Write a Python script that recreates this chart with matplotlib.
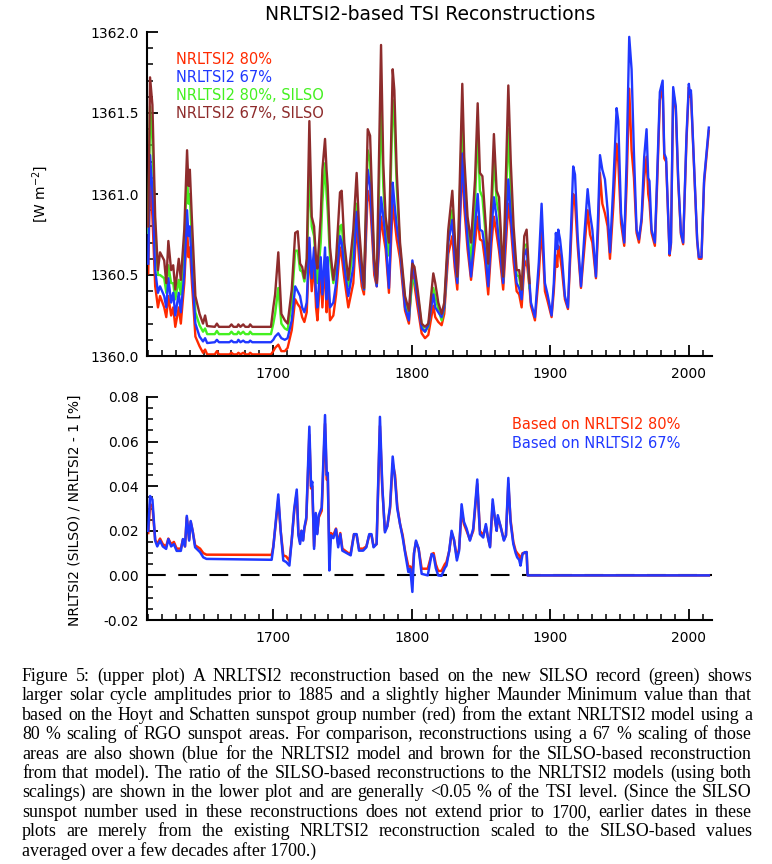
import matplotlib
matplotlib.use("Agg")
import matplotlib.pyplot as plt
from matplotlib.ticker import MultipleLocator, FormatStrFormatter

plt.rcParams['axes.unicode_minus'] = False
plt.rcParams['font.family'] = ['DejaVu Sans']

# ---------------- data: upper plot ----------------
# SILSO-based reconstructions (1610-1885) and NRLTSI2 over the same years
years_early = [1610.0, 1611.3, 1613.0, 1615.0, 1617.0, 1618.5, 1621.5, 1623.0, 1624.5, 1626.5,
               1628.0, 1629.5, 1632.0, 1633.5, 1636.0, 1638.0, 1639.0, 1640.0, 1641.5, 1644.0,
               1647.0, 1649.5, 1651.0, 1652.5, 1658.0, 1659.5, 1661.0, 1668.5, 1670.0, 1671.5,
               1674.0, 1675.0, 1676.5, 1678.5, 1680.0, 1682.5, 1683.5, 1685.0, 1698.5, 1700.2,
               1701.5, 1703.8, 1706.0, 1708.5, 1710.5, 1713.5, 1716.0, 1717.8, 1719.5, 1721.0,
               1722.6, 1724.3, 1726.2, 1727.9, 1729.6, 1731.0, 1732.0, 1734.4, 1735.6, 1737.5,
               1738.6, 1739.4, 1741.1, 1743.5, 1745.5, 1748.3, 1749.5, 1751.4, 1754.3, 1757.9,
               1760.3, 1762.0, 1764.0, 1765.6, 1768.3, 1770.0, 1771.6, 1773.0, 1774.8, 1777.9,
               1779.5, 1781.2, 1783.6, 1786.3, 1787.5, 1789.2, 1791.6, 1795.2, 1798.0, 1800.5,
               1802.0, 1804.3, 1807.2, 1809.6, 1812.0, 1815.6, 1817.0, 1819.2, 1821.6, 1823.5,
               1826.4, 1829.3, 1831.0, 1832.9, 1836.5, 1837.9, 1840.3, 1842.8, 1845.7, 1847.6,
               1849.2, 1851.0, 1853.0, 1855.2, 1857.6, 1859.3, 1861.3, 1863.0, 1866.0, 1869.7,
               1871.5, 1873.5, 1875.7, 1877.5, 1879.3, 1881.2, 1882.9, 1885.0]

silso_67 = [1360.80, 1361.72, 1361.55, 1360.86, 1360.53, 1360.64, 1360.59, 1360.45, 1360.71, 1360.53,
            1360.56, 1360.41, 1360.60, 1360.47, 1360.78, 1361.27, 1361.05, 1361.15, 1360.84, 1360.37,
            1360.26, 1360.20, 1360.25, 1360.185, 1360.18, 1360.20, 1360.18, 1360.18, 1360.195, 1360.18,
            1360.18, 1360.195, 1360.18, 1360.195, 1360.18, 1360.18, 1360.195, 1360.18, 1360.18, 1360.30,
            1360.38, 1360.64, 1360.26, 1360.22, 1360.20, 1360.41, 1360.76, 1360.77, 1360.57, 1360.55,
            1360.48, 1360.60, 1361.45, 1360.86, 1360.80, 1360.60, 1360.54, 1360.86, 1361.15, 1361.34,
            1361.15, 1361.05, 1360.67, 1360.47, 1360.60, 1361.01, 1361.02, 1360.70, 1360.47, 1360.78,
            1361.13, 1360.80, 1360.57, 1360.42, 1361.40, 1361.36, 1360.94, 1360.60, 1360.45, 1361.92,
            1361.19, 1360.86, 1360.70, 1361.77, 1361.64, 1361.14, 1360.70, 1360.37, 1360.28, 1360.57,
            1360.55, 1360.41, 1360.20, 1360.18, 1360.20, 1360.51, 1360.45, 1360.33, 1360.26, 1360.33,
            1360.78, 1361.02, 1360.75, 1360.49, 1361.68, 1361.23, 1360.86, 1360.70, 1361.09, 1361.56,
            1361.13, 1361.11, 1360.86, 1360.57, 1360.98, 1361.37, 1361.02, 1360.98, 1360.49, 1361.67,
            1361.19, 1360.80, 1360.53, 1360.53, 1360.41, 1360.74, 1360.78, 1360.45]

silso_80 = [1360.76, 1361.54, 1361.33, 1360.78, 1360.50, 1360.50, 1360.48, 1360.39, 1360.56, 1360.45,
            1360.45, 1360.35, 1360.47, 1360.38, 1360.70, 1361.11, 1360.94, 1361.00, 1360.70, 1360.27,
            1360.19, 1360.15, 1360.17, 1360.135, 1360.135, 1360.155, 1360.135, 1360.135, 1360.15, 1360.135,
            1360.135, 1360.15, 1360.135, 1360.15, 1360.135, 1360.135, 1360.15, 1360.135, 1360.135, 1360.20,
            1360.26, 1360.42, 1360.20, 1360.17, 1360.16, 1360.33, 1360.65, 1360.65, 1360.53, 1360.52,
            1360.46, 1360.55, 1361.13, 1360.80, 1360.74, 1360.55, 1360.45, 1360.70, 1360.95, 1361.19,
            1361.00, 1360.90, 1360.60, 1360.45, 1360.55, 1360.80, 1360.81, 1360.63, 1360.43, 1360.68,
            1360.94, 1360.72, 1360.52, 1360.41, 1361.27, 1361.20, 1360.85, 1360.57, 1360.44, 1361.55,
            1361.05, 1360.80, 1360.62, 1361.58, 1361.45, 1361.05, 1360.66, 1360.35, 1360.24, 1360.47,
            1360.46, 1360.38, 1360.19, 1360.15, 1360.18, 1360.42, 1360.37, 1360.29, 1360.22, 1360.30,
            1360.72, 1360.90, 1360.70, 1360.46, 1361.50, 1361.10, 1360.80, 1360.58, 1360.95, 1361.40,
            1361.02, 1360.98, 1360.78, 1360.50, 1360.85, 1361.24, 1360.95, 1360.88, 1360.47, 1361.40,
            1361.00, 1360.72, 1360.50, 1360.49, 1360.38, 1360.68, 1360.69, 1360.42]

nrl_67_early = [1360.57, 1361.24, 1361.02, 1360.53, 1360.39, 1360.43, 1360.37, 1360.30, 1360.48, 1360.33,
                1360.39, 1360.25, 1360.39, 1360.27, 1360.51, 1360.90, 1360.74, 1360.80, 1360.53, 1360.20,
                1360.12, 1360.09, 1360.11, 1360.08, 1360.085, 1360.10, 1360.085, 1360.085, 1360.095, 1360.085,
                1360.085, 1360.10, 1360.085, 1360.095, 1360.085, 1360.085, 1360.095, 1360.085, 1360.085, 1360.10,
                1360.12, 1360.14, 1360.11, 1360.10, 1360.11, 1360.22, 1360.43, 1360.40, 1360.37, 1360.30,
                1360.27, 1360.33, 1360.73, 1360.48, 1360.67, 1360.38, 1360.30, 1360.61, 1360.38, 1360.67,
                1360.35, 1360.61, 1360.30, 1360.33, 1360.45, 1360.74, 1360.70, 1360.55, 1360.37, 1360.55,
                1360.89, 1360.68, 1360.48, 1360.41, 1361.15, 1361.05, 1360.78, 1360.55, 1360.43, 1360.98,
                1360.86, 1360.72, 1360.42, 1361.07, 1360.95, 1360.80, 1360.66, 1360.30, 1360.22, 1360.59,
                1360.50, 1360.35, 1360.17, 1360.15, 1360.19, 1360.38, 1360.30, 1360.27, 1360.24, 1360.30,
                1360.70, 1360.84, 1360.60, 1360.45, 1361.25, 1361.00, 1360.72, 1360.49, 1360.80, 1361.00,
                1360.78, 1360.77, 1360.65, 1360.43, 1360.78, 1360.98, 1360.85, 1360.70, 1360.45, 1361.09,
                1360.86, 1360.65, 1360.45, 1360.42, 1360.35, 1360.62, 1360.66, 1360.45]

nrl_80_early = [1360.51, 1361.11, 1360.86, 1360.43, 1360.30, 1360.37, 1360.30, 1360.24, 1360.37, 1360.25,
                1360.30, 1360.18, 1360.30, 1360.20, 1360.45, 1360.80, 1360.61, 1360.67, 1360.45, 1360.12,
                1360.06, 1360.02, 1360.04, 1360.01, 1360.01, 1360.03, 1360.01, 1360.01, 1360.02, 1360.01,
                1360.01, 1360.02, 1360.01, 1360.02, 1360.01, 1360.01, 1360.02, 1360.01, 1360.01, 1360.03,
                1360.05, 1360.07, 1360.03, 1360.03, 1360.05, 1360.16, 1360.35, 1360.32, 1360.30, 1360.24,
                1360.21, 1360.27, 1360.67, 1360.40, 1360.58, 1360.30, 1360.22, 1360.52, 1360.30, 1360.59,
                1360.27, 1360.52, 1360.22, 1360.25, 1360.38, 1360.67, 1360.62, 1360.48, 1360.30, 1360.45,
                1360.82, 1360.60, 1360.43, 1360.38, 1361.02, 1360.95, 1360.72, 1360.50, 1360.43, 1360.86,
                1360.75, 1360.66, 1360.39, 1360.94, 1360.85, 1360.72, 1360.60, 1360.28, 1360.20, 1360.53,
                1360.44, 1360.30, 1360.14, 1360.11, 1360.13, 1360.31, 1360.24, 1360.21, 1360.19, 1360.26,
                1360.63, 1360.74, 1360.55, 1360.41, 1361.19, 1360.92, 1360.66, 1360.47, 1360.70, 1360.86,
                1360.72, 1360.71, 1360.58, 1360.38, 1360.70, 1360.86, 1360.75, 1360.65, 1360.41, 1360.94,
                1360.80, 1360.58, 1360.40, 1360.38, 1360.30, 1360.55, 1360.59, 1360.42]

# NRLTSI2 after 1885 (SILSO-based curves coincide with these)
years_late = [1886.0, 1888.9, 1891.7, 1893.7, 1896.1, 1898.0, 1900.9, 1902.5, 1904.0, 1905.0,
              1905.7, 1907.0, 1908.5, 1910.5, 1912.7, 1914.9, 1916.5, 1917.8, 1919.7, 1922.1,
              1924.5, 1926.9, 1928.6, 1930.3, 1932.9, 1934.5, 1935.8, 1937.5, 1939.4, 1941.3,
              1943.0, 1945.4, 1947.8, 1949.0, 1951.0, 1953.3, 1955.0, 1956.9, 1958.6, 1960.3,
              1962.2, 1963.9, 1965.8, 1967.7, 1969.4, 1970.6, 1971.5, 1973.0, 1975.4, 1977.0,
              1979.0, 1981.0, 1982.2, 1983.5, 1986.0, 1987.0, 1988.6, 1990.5, 1992.2, 1994.2,
              1995.8, 1998.2, 1999.9, 2000.6, 2001.4, 2003.6, 2005.9, 2007.1, 2009.0, 2010.9,
              2012.6, 2014.3]
nrl_67_late = [1360.33, 1360.24, 1360.58, 1360.94, 1360.45, 1360.38, 1360.25, 1360.45, 1360.76, 1360.66,
               1360.78, 1360.72, 1360.60, 1360.37, 1360.30, 1360.78, 1361.17, 1361.12, 1360.74, 1360.43,
               1360.74, 1361.03, 1360.88, 1360.78, 1360.49, 1360.88, 1361.24, 1361.15, 1361.09, 1360.90,
               1360.64, 1361.05, 1361.53, 1361.45, 1360.88, 1360.70, 1361.20, 1361.97, 1361.77, 1361.25,
               1360.78, 1360.72, 1360.85, 1361.23, 1361.40, 1361.10, 1361.08, 1360.78, 1360.70, 1361.10,
               1361.63, 1361.70, 1361.25, 1361.22, 1360.63, 1360.70, 1361.66, 1361.54, 1361.10, 1360.76,
               1360.70, 1361.36, 1361.68, 1361.62, 1361.64, 1361.19, 1360.72, 1360.61, 1360.61, 1361.09,
               1361.25, 1361.41]
nrl_80_late = [1360.31, 1360.22, 1360.50, 1360.80, 1360.40, 1360.34, 1360.24, 1360.40, 1360.62, 1360.55,
               1360.68, 1360.62, 1360.52, 1360.35, 1360.29, 1360.70, 1361.00, 1360.95, 1360.68, 1360.42,
               1360.66, 1360.90, 1360.75, 1360.70, 1360.48, 1360.78, 1361.13, 1360.94, 1360.88, 1360.80,
               1360.60, 1360.92, 1361.31, 1361.20, 1360.82, 1360.68, 1361.05, 1361.65, 1361.27, 1361.10,
               1360.76, 1360.70, 1360.83, 1361.10, 1361.23, 1361.00, 1360.95, 1360.76, 1360.68, 1361.05,
               1361.58, 1361.66, 1361.22, 1361.20, 1360.62, 1360.69, 1361.63, 1361.52, 1361.08, 1360.75,
               1360.69, 1361.33, 1361.66, 1361.60, 1361.62, 1361.17, 1360.71, 1360.60, 1360.60, 1361.07,
               1361.23, 1361.39]

upper_labels = ["NRLTSI2 80%", "NRLTSI2 67%", "NRLTSI2 80%, SILSO", "NRLTSI2 67%, SILSO"]

# ---------------- data: lower plot (ratio - 1, %) ----------------
years_ratio = [1610.0, 1611.3, 1613.0, 1615.0, 1616.5, 1618.5, 1620.5, 1622.9, 1624.5, 1626.5,
               1628.5, 1630.5, 1633.5, 1635.0, 1636.5, 1637.8, 1639.5, 1640.6, 1642.0, 1643.8,
               1647.4, 1649.7, 1652.0, 1699.0, 1700.2, 1703.8, 1705.5, 1707.4, 1709.5, 1711.8,
               1713.5, 1715.3, 1717.1, 1718.3, 1719.5, 1720.5, 1721.7, 1722.6, 1724.0, 1726.2,
               1727.4, 1728.3, 1729.6, 1730.8, 1731.9, 1733.0, 1735.1, 1737.5, 1738.7, 1739.5,
               1740.6, 1741.8, 1743.5, 1745.4, 1747.0, 1748.5, 1750.0, 1754.3, 1756.0, 1758.4,
               1760.3, 1762.0, 1765.0, 1767.3, 1769.4, 1771.0, 1772.5, 1774.7, 1777.1, 1778.8,
               1780.7, 1782.4, 1784.4, 1786.3, 1788.0, 1789.6, 1791.6, 1793.5, 1795.2, 1797.6,
               1799.0, 1800.5, 1801.7, 1803.1, 1805.0, 1807.2, 1811.6, 1814.4, 1815.8, 1817.4,
               1819.1, 1821.5, 1823.9, 1825.1, 1827.1, 1828.8, 1830.5, 1832.6, 1834.2, 1836.0,
               1837.7, 1839.6, 1842.0, 1844.4, 1847.3, 1849.2, 1851.6, 1853.5, 1855.0, 1856.5,
               1858.4, 1860.1, 1861.3, 1862.1, 1864.1, 1866.5, 1868.0, 1869.7, 1871.3, 1873.3,
               1875.0, 1876.1, 1877.5, 1878.5, 1880.0, 1881.5, 1882.9, 1883.6, 2014.3]
ratio_67 = [0.0200, 0.0356, 0.0340, 0.0156, 0.0130, 0.0156, 0.0130, 0.0119, 0.0163, 0.0130,
            0.0140, 0.0110, 0.0110, 0.0163, 0.0130, 0.0267, 0.0156, 0.0244, 0.0200, 0.0126,
            0.0104, 0.0081, 0.0074, 0.0070, 0.0126, 0.0363, 0.0200, 0.0067, 0.0060, 0.0044,
            0.0160, 0.0300, 0.0385, 0.0180, 0.0141, 0.0200, 0.0156, 0.0215, 0.0260, 0.0667,
            0.0400, 0.0420, 0.0119, 0.0280, 0.0185, 0.0270, 0.0304, 0.0719, 0.0450, 0.0460,
            0.0022, 0.0180, 0.0167, 0.0207, 0.0126, 0.0185, 0.0111, 0.0096, 0.0090, 0.0185,
            0.0185, 0.0111, 0.0111, 0.0126, 0.0185, 0.0185, 0.0126, 0.0141, 0.0711, 0.0400,
            0.0193, 0.0220, 0.0310, 0.0533, 0.0430, 0.0300, 0.0230, 0.0170, 0.0104, 0.0015,
            0.0030, -0.0074, 0.0100, 0.0156, 0.0120, 0.0007, 0.0000, 0.0096, 0.0090, 0.0033,
            0.0000, -0.0002, 0.0033, 0.0044, 0.0111, 0.0200, 0.0160, 0.0067, 0.0111, 0.0319,
            0.0240, 0.0210, 0.0156, 0.0210, 0.0430, 0.0185, 0.0170, 0.0230, 0.0170, 0.0126,
            0.0341, 0.0250, 0.0200, 0.0270, 0.0220, 0.0156, 0.0180, 0.0437, 0.0240, 0.0141,
            0.0100, 0.0081, 0.0070, 0.0044, 0.0096, 0.0104, 0.0104, 0.0000, 0.0000]
ratio_80 = [0.0190, 0.0320, 0.0310, 0.0160, 0.0140, 0.0165, 0.0140, 0.0130, 0.0165, 0.0140,
            0.0150, 0.0120, 0.0120, 0.0160, 0.0130, 0.0260, 0.0160, 0.0240, 0.0200, 0.0135,
            0.0120, 0.0100, 0.0093, 0.0092, 0.0130, 0.0340, 0.0200, 0.0090, 0.0085, 0.0065,
            0.0160, 0.0290, 0.0370, 0.0190, 0.0150, 0.0200, 0.0160, 0.0210, 0.0250, 0.0630,
            0.0390, 0.0400, 0.0130, 0.0270, 0.0190, 0.0260, 0.0290, 0.0680, 0.0430, 0.0430,
            0.0120, 0.0190, 0.0180, 0.0210, 0.0140, 0.0190, 0.0120, 0.0100, 0.0100, 0.0185,
            0.0180, 0.0120, 0.0120, 0.0130, 0.0180, 0.0180, 0.0130, 0.0140, 0.0670, 0.0390,
            0.0200, 0.0220, 0.0300, 0.0500, 0.0450, 0.0310, 0.0230, 0.0180, 0.0110, 0.0040,
            0.0040, 0.0010, 0.0100, 0.0150, 0.0120, 0.0030, 0.0030, 0.0095, 0.0100, 0.0050,
            0.0020, 0.0020, 0.0050, 0.0060, 0.0110, 0.0190, 0.0160, 0.0080, 0.0120, 0.0290,
            0.0230, 0.0200, 0.0160, 0.0200, 0.0410, 0.0200, 0.0180, 0.0220, 0.0170, 0.0130,
            0.0320, 0.0250, 0.0200, 0.0260, 0.0220, 0.0160, 0.0180, 0.0410, 0.0250, 0.0150,
            0.0110, 0.0100, 0.0090, 0.0070, 0.0100, 0.0100, 0.0105, 0.0000, 0.0000]

lower_labels = ["Based on NRLTSI2 80%", "Based on NRLTSI2 67%"]

caption_lines = [
    "Figure 5: (upper plot) A NRLTSI2 reconstruction based on the new SILSO record (green) shows",
    "larger solar cycle amplitudes prior to 1885 and a slightly higher Maunder Minimum value than that",
    "based on the Hoyt and Schatten sunspot group number (red) from the extant NRLTSI2 model using a",
    "80 % scaling of RGO sunspot areas. For comparison, reconstructions using a 67 % scaling of those",
    "areas are also shown (blue for the NRLTSI2 model and brown for the SILSO-based reconstruction",
    "from that model). The ratio of the SILSO-based reconstructions to the NRLTSI2 models (using both",
    "scalings) are shown in the lower plot and are generally <0.05 % of the TSI level. (Since the SILSO",
    "sunspot number used in these reconstructions does not extend prior to 1700, earlier dates in these",
    "plots are merely from the existing NRLTSI2 reconstruction scaled to the SILSO-based values",
    "averaged over a few decades after 1700.)",
]

# ---------------- styling ----------------
RED = '#ff2a00'
BLUE = '#2038ff'
GREEN = '#44f020'
BROWN = '#8e2c2c'

W, H = 772, 864
fig = plt.figure(figsize=(W / 100, H / 100), dpi=100)

def frac_box(l, t, r, b):
    return [l / W, 1 - b / H, (r - l) / W, (b - t) / H]

ax1 = fig.add_axes(frac_box(147, 32, 712, 356))
ax2 = fig.add_axes(frac_box(147, 397, 712, 620))

XMIN, XMAX = 1609.1, 2016.6

# upper plot
nrl_years = years_early + years_late
ax1.plot(nrl_years, nrl_80_early + nrl_80_late, color=RED, lw=1.7, zorder=2)
ax1.plot(years_early, silso_80, color=GREEN, lw=1.7, zorder=3)
ax1.plot(years_early, silso_67, color=BROWN, lw=1.7, zorder=4)
ax1.plot(nrl_years, nrl_67_early + nrl_67_late, color=BLUE, lw=1.7, zorder=3.5)
ax1.set_xlim(XMIN, XMAX)
ax1.set_ylim(1360.0, 1362.0)
ax1.yaxis.set_major_locator(MultipleLocator(0.5))
ax1.yaxis.set_minor_locator(MultipleLocator(0.1))
ax1.yaxis.set_major_formatter(FormatStrFormatter('%.1f'))

for txt, col, yy in zip(upper_labels, [RED, BLUE, GREEN, BROWN], [59, 77, 96, 114]):
    ax1.text((176 - 147) / 565, (356 - yy) / 324, txt, color=col, fontsize=10.5,
             transform=ax1.transAxes, ha='left', va='center')

# lower plot
ax2.axhline(0.0, color='black', lw=1.5, dashes=(9, 6), zorder=1)
ax2.plot(years_ratio, ratio_80, color=RED, lw=1.8, zorder=2)
ax2.plot(years_ratio, ratio_67, color=BLUE, lw=1.8, zorder=3)
ax2.set_xlim(XMIN, XMAX)
ax2.set_ylim(-0.02, 0.08)
ax2.yaxis.set_major_locator(MultipleLocator(0.02))
ax2.yaxis.set_minor_locator(MultipleLocator(0.005))
ax2.yaxis.set_major_formatter(FormatStrFormatter('%.2f'))

for txt, col, yy in zip(lower_labels, [RED, BLUE], [425, 443]):
    ax2.text((512 - 147) / 565, (620 - yy) / 223, txt, color=col, fontsize=10.5,
             transform=ax2.transAxes, ha='left', va='center')

for ax in (ax1, ax2):
    ax.spines['top'].set_visible(False)
    ax.spines['right'].set_visible(False)
    ax.spines['left'].set_linewidth(1.5)
    ax.spines['bottom'].set_linewidth(1.5)
    ax.xaxis.set_major_locator(MultipleLocator(100))
    ax.xaxis.set_minor_locator(MultipleLocator(10))
    ax.tick_params(which='major', direction='in', length=8, width=1.3, labelsize=10, pad=6)
    ax.tick_params(which='minor', direction='in', length=4, width=1.1)
    ax.tick_params(axis='x', which='major', pad=8)
    ax.set_facecolor('none')

fig.text(430 / W, 1 - 14 / H, "NRLTSI2-based TSI Reconstructions", fontsize=13.5,
         ha='center', va='center')
fig.text(40 / W, 1 - 194 / H, "[W m$^{-2}$]", fontsize=10, rotation=90,
         ha='center', va='center')
fig.text(75 / W, 1 - 510 / H, "NRLTSI2 (SILSO) / NRLTSI2 - 1 [%]", fontsize=10, rotation=90,
         ha='center', va='center')

# ---------------- justified caption ----------------
CAP_FAMILY = ['Liberation Serif', 'DejaVu Serif']
LEFT, RIGHT = 22, 752
BASE0, DY = 681, 19.4

fig.canvas.draw()
renderer = fig.canvas.get_renderer()

def text_width(s, fs):
    t = fig.text(0, 0, s, fontsize=fs, family=CAP_FAMILY)
    w = t.get_window_extent(renderer).width
    t.remove()
    return w

fs = 14.5
while fs > 8:
    widest = max(text_width(l, fs) for l in caption_lines[:-1])
    if widest <= (RIGHT - LEFT) * 0.995:
        break
    fs -= 0.1

for i, line in enumerate(caption_lines):
    yb = 1 - (BASE0 + i * DY) / H
    if i == len(caption_lines) - 1:
        fig.text(LEFT / W, yb, line, fontsize=fs, family=CAP_FAMILY, ha='left', va='baseline')
        continue
    words = line.split(' ')
    widths = [text_width(w_, fs) for w_ in words]
    gap = (RIGHT - LEFT - sum(widths)) / (len(words) - 1)
    x = LEFT
    for w_, wd in zip(words, widths):
        fig.text(x / W, yb, w_, fontsize=fs, family=CAP_FAMILY, ha='left', va='baseline')
        x += wd + gap

fig.savefig("out.png", dpi=100)
